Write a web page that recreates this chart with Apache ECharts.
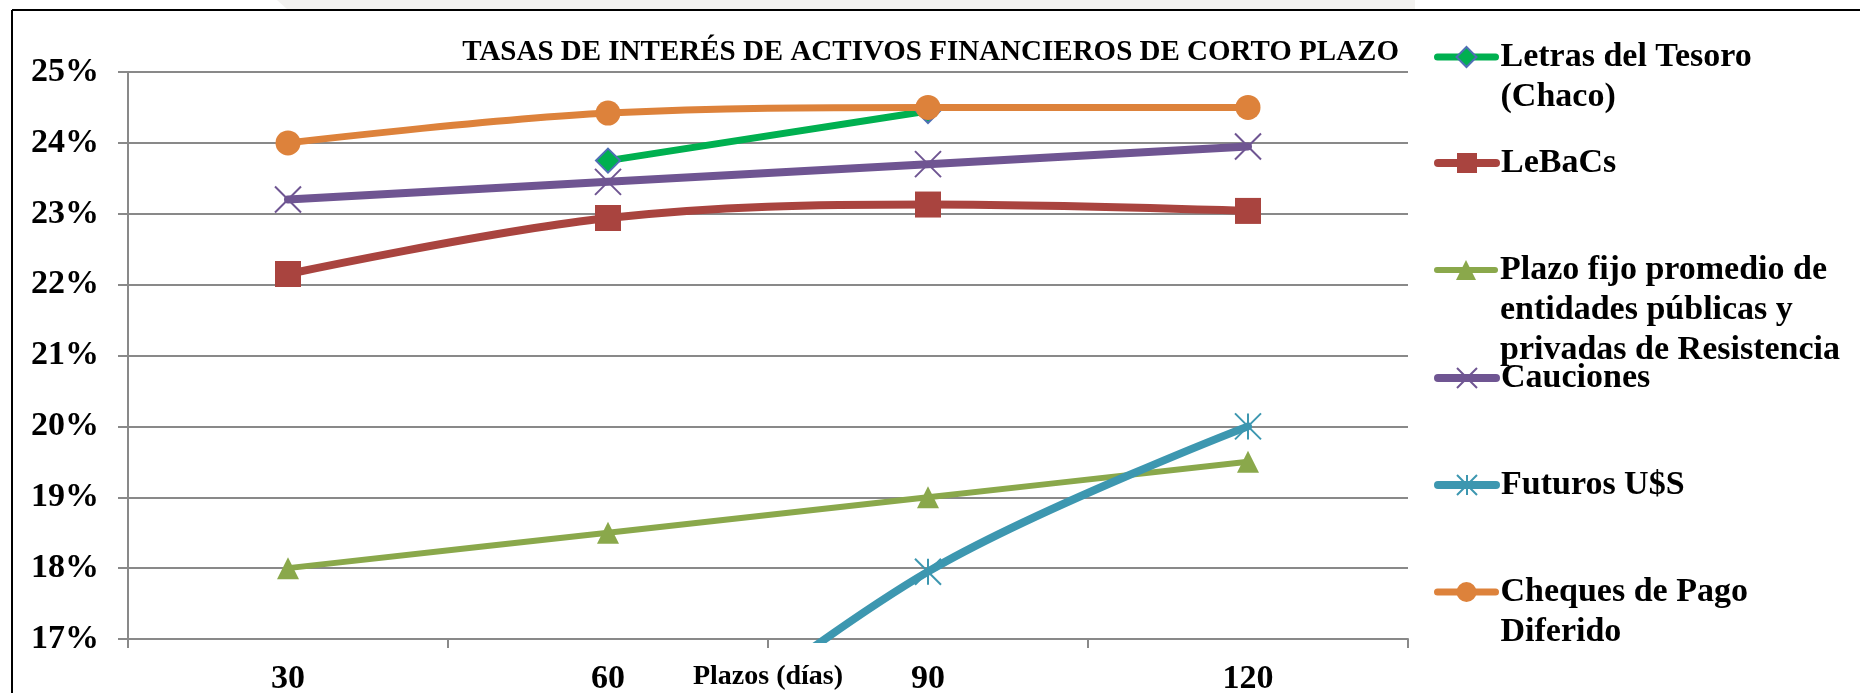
<!DOCTYPE html>
<html>
<head>
<meta charset="utf-8">
<script src="https://cdn.jsdelivr.net/npm/echarts@6/dist/echarts.min.js"></script>
<style>
  html, body { margin: 0; padding: 0; background: #ffffff; }
  #chart { width: 1860px; height: 693px; }
</style>
</head>
<body>
<div id="chart"></div>
<script>
// ---- data ----
const categories = ['30', '60', '90', '120'];
const seriesNames = [
  'Letras del Tesoro\n(Chaco)',
  'LeBaCs',
  'Plazo fijo promedio de\nentidades públicas y\nprivadas de Resistencia',
  'Cauciones',
  'Futuros U$S',
  'Cheques de Pago\nDiferido'
];
const letras     = [null, 23.75, 24.45, null];
const lebacs     = [22.15, 22.94, 23.13, 23.04];
const plazoFijo  = [18.0, 18.5, 19.0, 19.5];
const cauciones  = [23.2, 23.45, 23.7, 23.95];
const futuros    = [null, 14.7, 17.95, 20.0];
const cheques    = [24.0, 24.42, 24.5, 24.5];
const yTicks = { min: 17, max: 25, interval: 1 };
const titleText = 'TASAS DE INTERÉS DE ACTIVOS FINANCIEROS DE CORTO PLAZO';
const xAxisName = 'Plazos (días)';

// ---- styling ----
const FONT = 'Liberation Serif';
const colors = ['#00b050', '#a9443f', '#8aa84b', '#6f5592', '#3d97b0', '#dd823b'];
const X_PATH = 'path://M0 0L10 10M10 0L0 10';
const STAR_PATH = 'path://M0 0L10 10M10 0L0 10M5 0L5 10';

const dataSets = [letras, lebacs, plazoFijo, cauciones, futuros, cheques];
const symbols = ['diamond', 'rect', 'triangle', X_PATH, STAR_PATH, 'circle'];
const symbolSizes = [24, 26, 22, 26, 26, 25];
const lineWidths = [7, 8, 6, 8, 8, 7];

const series = dataSets.map((d, i) => {
  const isOpen = i === 3 || i === 4;
  return {
    name: seriesNames[i],
    type: 'line',
    data: d,
    smooth: 0.35,
    symbol: symbols[i],
    symbolSize: symbolSizes[i],
    showAllSymbol: true,
    connectNulls: false,
    clip: true,
    lineStyle: { color: colors[i], width: lineWidths[i], cap: 'round' },
    itemStyle: {
      color: colors[i],
      borderColor: i === 0 ? '#4f6fb5' : colors[i],
      borderWidth: (i === 0 || isOpen) ? 2 : 0
    },
    emphasis: { disabled: true },
    z: 2 + i
  };
});

// one legend per item so each sits at its own height; the icon is kept on the
// first text line by padding the label with empty lines above it
const legendIconY = [57, 163, 270, 378, 485, 592];
const LH = 40;
const legends = seriesNames.map((name, i) => {
  const n = name.split('\n').length;
  return {
    data: [name],
    left: 1434,
    top: legendIconY[i] - (2 * n - 1) * LH / 2,
    orient: 'vertical',
    padding: 0,
    itemWidth: 58,
    itemHeight: 25,
    itemGap: 0,
    selectedMode: false,
    formatter: (nm) => '\n'.repeat(n - 1) + nm,
    lineStyle: { width: lineWidths[i], cap: 'round' },
    textStyle: {
      fontFamily: FONT,
      fontWeight: 'bold',
      fontSize: 34,
      color: '#000000',
      lineHeight: LH
    }
  };
});

const chart = echarts.init(document.getElementById('chart'), null, { renderer: 'canvas' });
chart.setOption({
  animation: false,
  backgroundColor: '#ffffff',
  title: {
    text: titleText,
    right: 461,
    top: 38,
    padding: 0,
    textStyle: { fontFamily: FONT, fontWeight: 'bold', fontSize: 29, color: '#000000' }
  },
  legend: legends,
  grid: { left: 128, right: 452, top: 72, bottom: 54, containLabel: false, outerBoundsMode: 'none' },
  xAxis: {
    type: 'category',
    data: categories,
    boundaryGap: true,
    name: xAxisName,
    nameLocation: 'middle',
    nameGap: 24,
    nameMoveOverlap: false,
    nameTextStyle: { fontFamily: FONT, fontWeight: 'bold', fontSize: 28, color: '#000000', verticalAlign: 'top' },
    axisLine: { lineStyle: { color: '#898989', width: 2 } },
    axisTick: { show: true, alignWithLabel: false, interval: 0, length: 9, lineStyle: { color: '#898989', width: 2 } },
    axisLabel: { margin: 23, fontFamily: FONT, fontWeight: 'bold', fontSize: 34, color: '#000000', interval: 0 },
    splitLine: { show: false }
  },
  yAxis: {
    type: 'value',
    min: yTicks.min,
    max: yTicks.max,
    interval: yTicks.interval,
    axisLine: { show: true, lineStyle: { color: '#898989', width: 2 } },
    axisTick: { show: true, length: 10, lineStyle: { color: '#898989', width: 2 } },
    axisLabel: { margin: 29, formatter: '{value}%', fontFamily: FONT, fontWeight: 'bold', fontSize: 34, color: '#000000' },
    splitLine: { show: true, lineStyle: { color: '#898989', width: 2 } }
  },
  graphic: [
    { type: 'polygon', silent: true, z: -1, shape: { points: [[277, 0], [1415, 0], [1415, 9], [287, 9]] }, style: { fill: '#f3f2f0' } },
    { type: 'line', silent: true, shape: { x1: 12, y1: 10, x2: 1860, y2: 10 }, style: { stroke: '#000000', lineWidth: 2 } },
    { type: 'line', silent: true, shape: { x1: 12, y1: 10, x2: 12, y2: 693 }, style: { stroke: '#000000', lineWidth: 2 } }
  ],
  series: series
});
</script>
</body>
</html>
